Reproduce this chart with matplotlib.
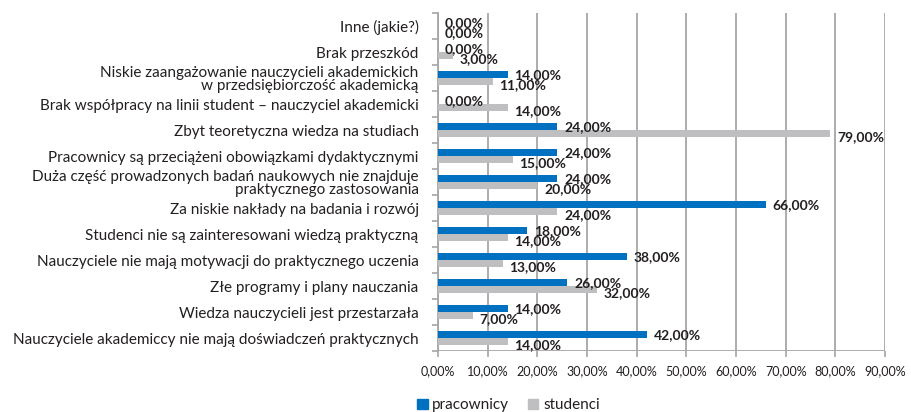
import matplotlib.pyplot as plt
from matplotlib.patches import Patch

# Dane z wykresu (od góry do dołu)
kategorie = [
    'Inne (jakie?)',
    'Brak przeszkód',
    'Niskie zaangażowanie nauczycieli akademickich\nw przedsiębiorczość akademicką',
    'Brak współpracy na linii student – nauczyciel akademicki',
    'Zbyt teoretyczna wiedza na studiach',
    'Pracownicy są przeciążeni obowiązkami dydaktycznymi',
    'Duża część prowadzonych badań naukowych nie znajduje\npraktycznego zastosowania',
    'Za niskie nakłady na badania i rozwój',
    'Studenci nie są zainteresowani wiedzą praktyczną',
    'Nauczyciele nie mają motywacji do praktycznego uczenia',
    'Złe programy i plany nauczania',
    'Wiedza nauczycieli jest przestarzała',
    'Nauczyciele akademiccy nie mają doświadczeń praktycznych',
]
pracownicy = [0, 0, 14, 0, 24, 24, 24, 66, 18, 38, 26, 14, 42]
studenci = [0, 3, 11, 14, 79, 15, 20, 24, 14, 13, 32, 7, 14]
ticks_x = [0, 10, 20, 30, 40, 50, 60, 70, 80, 90]

NIEBIESKI = '#0070C0'
SZARY = '#BFBFC1'
TEKST = '#231F20'

plt.rcParams['font.family'] = ['Lato', 'DejaVu Sans']

fig = plt.figure(figsize=(9.11, 4.12), dpi=100)
ax = fig.add_axes([0.4808, 0.148, 0.4907, 0.8204])

y = list(range(len(kategorie)))
h = 0.26
y_p = [i - 0.125 for i in y]
y_s = [i + 0.145 for i in y]
ax.barh(y_p, pracownicy, height=h, color=NIEBIESKI, zorder=3)
ax.barh(y_s, studenci, height=h, color=SZARY, zorder=3)

def fmt(v):
    return f'{v:.2f}%'.replace('.', ',')

for yy, v in zip(y_p, pracownicy):
    ax.annotate(fmt(v), (v, yy), xytext=(5, 0), textcoords='offset points',
                va='center', ha='left', fontsize=10, fontweight='bold', color=TEKST)
for yy, v in zip(y_s, studenci):
    ax.annotate(fmt(v), (v, yy), xytext=(5, -2.5), textcoords='offset points',
                va='center', ha='left', fontsize=10, fontweight='bold', color=TEKST)

ax.set_xlim(0, 90)
ax.set_ylim(len(kategorie) - 0.5, -0.5)
ax.set_xticks(ticks_x)
ax.set_xticklabels([fmt(t) for t in ticks_x], fontsize=9, color=TEKST)
ax.set_yticks(y)
ax.set_yticklabels(kategorie, fontsize=11, color=TEKST, linespacing=0.95)
ax.tick_params(axis='y', length=0, pad=14)
ax.set_yticks([i - 0.5 for i in range(len(kategorie) + 1)], minor=True)
ax.tick_params(axis='y', which='minor', length=4, color='#A6A6A6', width=1.2)
ax.tick_params(axis='x', length=4, color='#A6A6A6', width=1.2, pad=6)

ax.grid(axis='x', color='#A6A6A6', linewidth=1.3, zorder=0)
for s in ['top', 'right', 'bottom']:
    ax.spines[s].set_visible(False)
ax.spines['left'].set_color('#A6A6A6')
ax.spines['left'].set_linewidth(1.3)
ax.axhline(len(kategorie) - 0.5, color='#A6A6A6', linewidth=1.3, zorder=2)

handles = [Patch(color=NIEBIESKI, label='pracownicy'),
           Patch(color=SZARY, label='studenci')]
fig.legend(handles=handles, loc='center', bbox_to_anchor=(0.558, 0.016), ncol=2,
           frameon=False, fontsize=11, handlelength=0.7, handleheight=0.7,
           handletextpad=0.3, columnspacing=1.2, labelcolor=TEKST)

# Źródło - w oryginale ucięte dolną krawędzią obrazu
fig.text(0.0, -0.03, 'Źródło: opracowanie własne na podstawie badań', fontsize=10,
         color=TEKST, va='center', ha='left')

fig.savefig('out.png', dpi=100)
